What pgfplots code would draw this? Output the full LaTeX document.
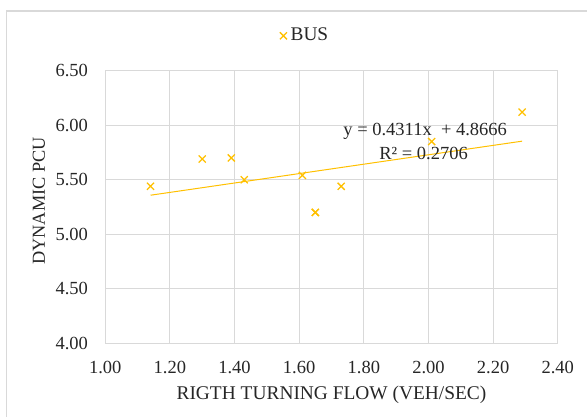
\documentclass[border=0pt]{standalone}
\usepackage{fontspec}
\setmainfont{Liberation Serif}
\usepackage{pgfplots}
\pgfplotsset{compat=1.18}
\definecolor{gold}{HTML}{FFC000}
\definecolor{gridgray}{HTML}{D9D9D9}
\definecolor{txt}{HTML}{262626}
\begin{document}
\begin{tikzpicture}[x=1pt,y=1pt]
\fontsize{18.5}{22}\selectfont
\useasboundingbox (0,0) rectangle (587,417);
\draw[gridgray,line width=1.3pt] (6.5,0) -- (6.5,406) -- (587,406);
\begin{axis}[
  at={(105.3pt,73.7pt)}, anchor=south west,
  scale only axis, width=452.4pt, height=272.6pt,
  xmin=1, xmax=2.4, ymin=4, ymax=6.5,
  xtick={1,1.2,1.4,1.6,1.8,2.0,2.2,2.4},
  ytick={4,4.5,5,5.5,6,6.5},
  grid=major,
  grid style={gridgray,line width=1pt},
  axis line style={draw=none},
  major tick length=0pt,
  tick label style={font=\fontsize{18.5}{22}\selectfont, text=txt},
  /pgf/number format/.cd, fixed, fixed zerofill, precision=2, assume math mode=true,
  /pgfplots/.cd,
  xticklabel style={yshift=-12pt},
  yticklabel style={xshift=-11pt},
  xlabel={RIGTH TURNING FLOW (VEH/SEC)},
  ylabel={DYNAMIC PCU},
  xlabel style={font=\fontsize{19.4}{22}\selectfont, text=txt, at={(axis description cs:0.5,-0.19)}, anchor=center},
  ylabel style={font=\fontsize{18.3}{22}\selectfont, text=txt, at={(axis description cs:-0.1466,0.522)}, anchor=center, rotate=0},
  legend style={at={(axis description cs:0.4394,1.128)}, anchor=center, draw=none, fill=none,
     font=\fontsize{19.3}{22}\selectfont, text=txt, inner sep=0pt},
  legend image code/.code={\path[draw=none,fill=none] (-5.5pt,0pt) rectangle (5.2pt,0.1pt); \draw[#1] plot coordinates {(0pt,0pt)};},
  legend cell align=left,
]
\addplot[only marks, mark=x, mark size=5pt, gold, line width=1.3pt] coordinates {
(1.14,5.44) (1.30,5.69) (1.39,5.70) (1.43,5.50) (1.61,5.54)
(1.65,5.20) (1.65,5.20) (1.73,5.44) (2.01,5.85) (2.29,6.12)
};
\addlegendentry{BUS}
\addplot[gold, line width=1pt, mark=none, forget plot] coordinates {(1.14,5.358054) (2.29,5.853819)};
\node[text=txt, font=\fontsize{18.5}{22}\selectfont] at (axis cs:1.99,5.94) {y = 0.4311x \ + 4.8666};
\node[text=txt, font=\fontsize{18.5}{22}\selectfont] at (axis cs:1.985,5.74) {R² = 0.2706};
\end{axis}
\end{tikzpicture}
\end{document}
